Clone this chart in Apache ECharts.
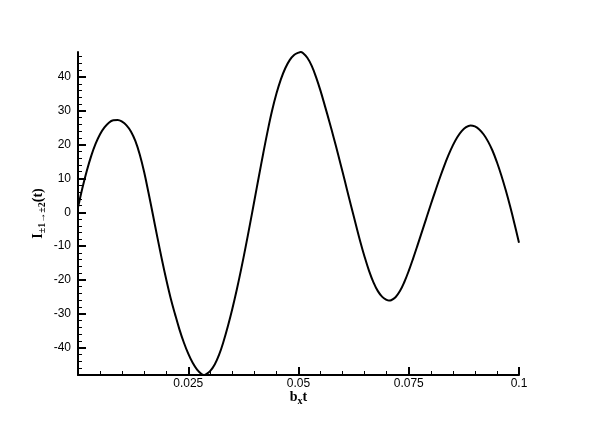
<!DOCTYPE html>
<html>
<head>
  <meta charset="utf-8">
  <title>I(t) vs bx t</title>
  <script src="https://cdn.jsdelivr.net/npm/echarts@6/dist/echarts.min.js"></script>
  <style>
    html, body {
      margin: 0;
      padding: 0;
      background: #ffffff;
    }
    #chart {
      width: 591px;
      height: 423px;
    }
  </style>
</head>
<body>
<div id="chart"></div>
<script>
  // values
  const xValues = [
    0, 0.001, 0.002, 0.003, 0.004, 0.005, 0.006, 0.007, 0.008, 0.009,
    0.01, 0.011, 0.012, 0.013, 0.014, 0.015, 0.016, 0.017, 0.018, 0.019,
    0.02, 0.021, 0.022, 0.023, 0.024, 0.025, 0.026, 0.027, 0.028, 0.0285,
    0.029, 0.03, 0.031, 0.032, 0.033, 0.034, 0.035, 0.036, 0.037, 0.038,
    0.039, 0.04, 0.041, 0.042, 0.043, 0.044, 0.045, 0.046, 0.047, 0.048,
    0.049, 0.05, 0.0505, 0.051, 0.052, 0.053, 0.054, 0.055, 0.056, 0.057,
    0.058, 0.059, 0.06, 0.061, 0.062, 0.063, 0.064, 0.065, 0.066, 0.067,
    0.068, 0.069, 0.07, 0.0705, 0.071, 0.072, 0.073, 0.074, 0.075, 0.076,
    0.077, 0.078, 0.079, 0.08, 0.081, 0.082, 0.083, 0.084, 0.085, 0.086,
    0.087, 0.088, 0.089, 0.09, 0.091, 0.092, 0.093, 0.094, 0.095, 0.096,
    0.097, 0.098, 0.099, 0.1
  ];
  const intensity = [
    1.4, 7.2, 12.3, 16.7, 20.3, 23.1, 25.1, 26.5, 27.2, 27.3,
    26.8, 25.7, 23.9, 21.1, 17.1, 11.9, 5.7, -0.8, -7.4, -13.8,
    -19.8, -25.3, -30.1, -34.6, -38.5, -41.8, -44.5, -46.5, -47.8, -48.1,
    -47.9, -46.9, -45.0, -42.1, -38.2, -33.6, -28.5, -22.9, -16.8, -10.3,
    -3.5, 3.5, 10.5, 17.4, 24.0, 30.0, 35.1, 39.3, 42.6, 45.0,
    46.5, 47.2, 47.4, 47.1, 45.7, 43.3, 39.9, 35.9, 31.4, 26.8,
    22.0, 17.0, 11.9, 6.7, 1.5, -3.6, -8.6, -13.2, -17.3, -20.7,
    -23.3, -25.0, -25.9, -26.1, -26.0, -25.1, -23.3, -20.6, -17.3, -13.6,
    -9.7, -5.7, -1.7, 2.3, 6.2, 10.0, 13.6, 16.9, 19.8, 22.2,
    24.0, 25.2, 25.7, 25.4, 24.5, 23.0, 20.9, 18.2, 14.8, 10.9,
    6.5, 1.7, -3.5, -9.0
  ];

  const xTicks = [0, 0.025, 0.05, 0.075, 0.1];
  const xLabels = [0.025, 0.05, 0.075, 0.1];
  const xMinorTicks = [
    0.005, 0.01, 0.015, 0.02, 0.03, 0.035, 0.04, 0.045,
    0.055, 0.06, 0.065, 0.07, 0.08, 0.085, 0.09, 0.095
  ];
  const yTicks = [-40, -30, -20, -10, 0, 10, 20, 30, 40];
  const yMinorTicks = [
    -48, -46, -44, -42, -38, -36, -34, -32, -28, -26, -24, -22,
    -18, -16, -14, -12, -8, -6, -4, -2, 2, 4, 6, 8,
    12, 14, 16, 18, 22, 24, 26, 28, 32, 34, 36, 38, 42, 44, 46
  ];
  const xRange = [0, 0.1];
  const yRange = [-48.1, 47.4];

  const LABEL_FONT = {
    fontFamily: 'Liberation Sans',
    fontSize: 12,
    color: '#000'
  };
  const NAME_RICH = {
    a: { fontFamily: 'Liberation Serif', fontWeight: 'bold', fontSize: 14, color: '#000', lineHeight: 16 },
    s: { fontFamily: 'Liberation Serif', fontWeight: 'bold', fontSize: 10, color: '#000', lineHeight: 10, padding: [8, 0, 0, 0] }
  };
  const majorTick = {
    inside: true,
    length: 8,
    lineStyle: { color: '#000', width: 2 }
  };
  const minorTick = {
    show: true,
    inside: true,
    length: 4,
    lineStyle: { color: '#000', width: 1 }
  };

  let myChart = echarts.init(document.getElementById('chart'), null, { renderer: 'canvas' });
  let option = {
    backgroundColor: '#ffffff',
    animation: false,
    grid: {
      left: 78,
      right: 72,
      top: 52,
      bottom: 48
    },
    xAxis: [
      {
        type: 'value',
        min: xRange[0],
        max: xRange[1],
        position: 'bottom',
        name: '{a|b}{s|x}{a|t}',
        nameLocation: 'middle',
        nameGap: 14,
        nameMoveOverlap: false,
        nameTextStyle: { rich: NAME_RICH },
        axisLine: { show: true, onZero: false, lineStyle: { color: '#000', width: 2 } },
        axisTick: { ...majorTick, customValues: xTicks },
        axisLabel: { ...LABEL_FONT, margin: 3, customValues: xLabels },
        splitLine: { show: false }
      },
      {
        type: 'value',
        min: xRange[0],
        max: xRange[1],
        position: 'bottom',
        offset: 0,
        axisLine: { show: false, onZero: false },
        axisTick: { ...minorTick, customValues: xMinorTicks },
        axisLabel: { show: false },
        splitLine: { show: false }
      }
    ],
    yAxis: [
      {
        type: 'value',
        min: yRange[0],
        max: yRange[1],
        position: 'left',
        name: '{a|I}{s|±1→±2}{a|(t)}',
        nameLocation: 'middle',
        nameGap: 32,
        nameMoveOverlap: false,
        nameTextStyle: { rich: NAME_RICH },
        axisLine: { show: true, onZero: false, lineStyle: { color: '#000', width: 2 } },
        axisTick: { ...majorTick, customValues: yTicks },
        axisLabel: { ...LABEL_FONT, margin: 7, customValues: yTicks },
        splitLine: { show: false }
      },
      {
        type: 'value',
        min: yRange[0],
        max: yRange[1],
        position: 'left',
        offset: 0,
        axisLine: { show: false, onZero: false },
        axisTick: { ...minorTick, customValues: yMinorTicks },
        axisLabel: { show: false },
        splitLine: { show: false }
      }
    ],
    series: [
      {
        type: 'line',
        xAxisIndex: 0,
        yAxisIndex: 0,
        data: xValues.map((x, i) => [x, intensity[i]]),
        showSymbol: false,
        smooth: 0.4,
        lineStyle: { color: '#000', width: 2 }
      }
    ]
  };
  option && myChart.setOption(option);
</script>
</body>
</html>
